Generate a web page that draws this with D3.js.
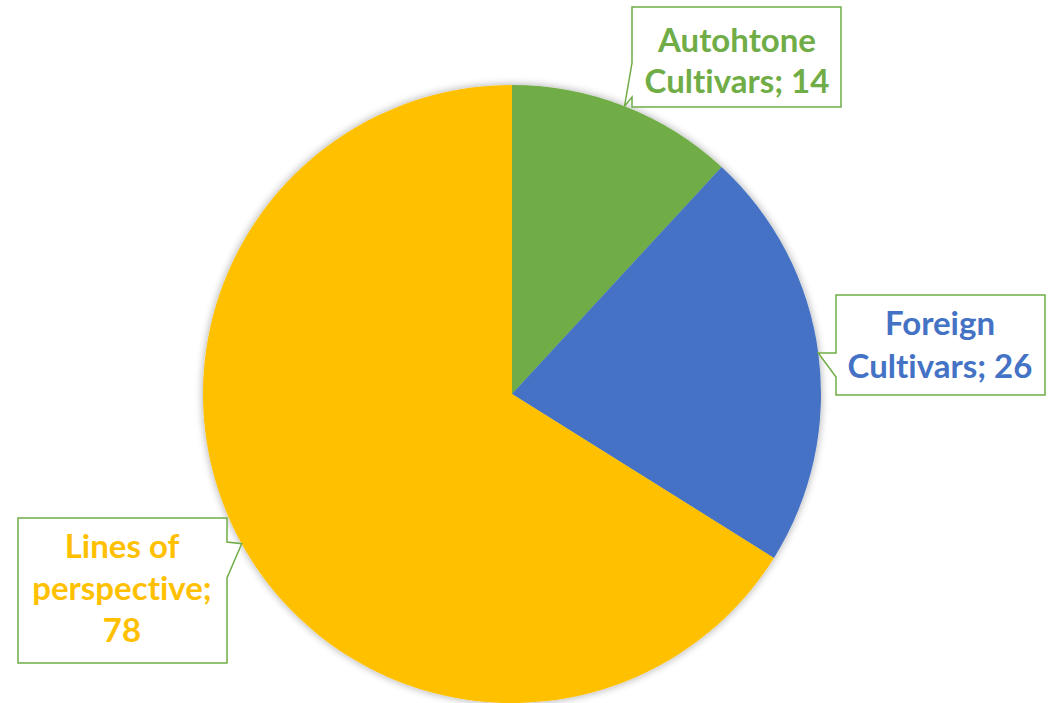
<!DOCTYPE html>
<html><head><meta charset="utf-8">
<script src="https://cdn.jsdelivr.net/npm/d3@7"></script>
<style>html,body{margin:0;padding:0;background:#fff;}svg{display:block;}text{font-variant-ligatures:none;font-feature-settings:"liga" 0,"clig" 0;}</style>
</head><body>
<svg id="chart" width="1058" height="703"></svg>
<script>
// ---- data ----
const categories = ["Autohtone Cultivars", "Foreign Cultivars", "Lines of perspective"];
const values = [14, 26, 78];
const labelLines = [["Autohtone", "Cultivars; 14"], ["Foreign", "Cultivars; 26"], ["Lines of", "perspective;", "78"]];
const colors = ["#70AD47", "#4472C4", "#FFC000"];

// ---- layout ----
const W = 1058, H = 703;
const cx = 512, cy = 394, R = 309;
// callout boxes: x,y,w,h, notch side and notch extent (absolute y)
const boxes = [
  {x: 632, y: 7, w: 209, h: 100, side: "left", n0: 63, n1: 97, lines: [52, 93], tx: 737},
  {x: 836, y: 295, w: 209, h: 100, side: "left", n0: 353, n1: 377, lines: [335, 378], tx: 940},
  {x: 18, y: 518, w: 209, h: 145, side: "right", n0: 542, n1: 578, lines: [558, 600, 642], tx: 122}
];

const svg = d3.select("#chart");
const defs = svg.append("defs");
const f = defs.append("filter").attr("id", "shadow").attr("x", "-10%").attr("y", "-10%").attr("width", "120%").attr("height", "120%");
f.append("feGaussianBlur").attr("in", "SourceAlpha").attr("stdDeviation", 4).attr("result", "b");
f.append("feOffset").attr("in", "b").attr("dx", 0).attr("dy", 0).attr("result", "o");
f.append("feComponentTransfer").attr("in", "o").attr("result", "o2")
  .append("feFuncA").attr("type", "linear").attr("slope", 0.35);
const m = f.append("feMerge");
m.append("feMergeNode").attr("in", "o2");
m.append("feMergeNode").attr("in", "SourceGraphic");

const pie = d3.pie().sort(null).value(d => d)(values);
const arc = d3.arc().innerRadius(0).outerRadius(R);

const g = svg.append("g").attr("transform", `translate(${cx},${cy})`);
g.append("g").attr("filter", "url(#shadow)")
  .selectAll("path").data(pie).join("path")
  .attr("d", arc)
  .attr("fill", (d, i) => colors[i]);

// callouts
pie.forEach((d, i) => {
  const a = (d.startAngle + d.endAngle) / 2;
  const tipX = cx + R * Math.sin(a), tipY = cy - R * Math.cos(a);
  const b = boxes[i];
  let p;
  const x0 = b.x, x1 = b.x + b.w, y0 = b.y, y1 = b.y + b.h;
  if (b.side === "left") {
    p = `M${x0},${y0}L${x1},${y0}L${x1},${y1}L${x0},${y1}L${x0},${b.n1}L${tipX},${tipY}L${x0},${b.n0}Z`;
  } else {
    p = `M${x0},${y0}L${x1},${y0}L${x1},${b.n0}L${tipX},${tipY}L${x1},${b.n1}L${x1},${y1}L${x0},${y1}Z`;
  }
  svg.append("path").attr("d", p).attr("fill", "#fff").attr("stroke", "#70AD47").attr("stroke-width", 1.5);
  const t = svg.append("text").attr("text-anchor", "middle")
    .attr("font-family", "Lato, 'Open Sans', sans-serif").attr("font-weight", "bold")
    .attr("font-size", 33).attr("fill", colors[i]);
  labelLines[i].forEach((s, j) => {
    t.append("tspan").attr("x", b.tx).attr("y", b.lines[j]).text(s);
  });
});
</script>
</body></html>
